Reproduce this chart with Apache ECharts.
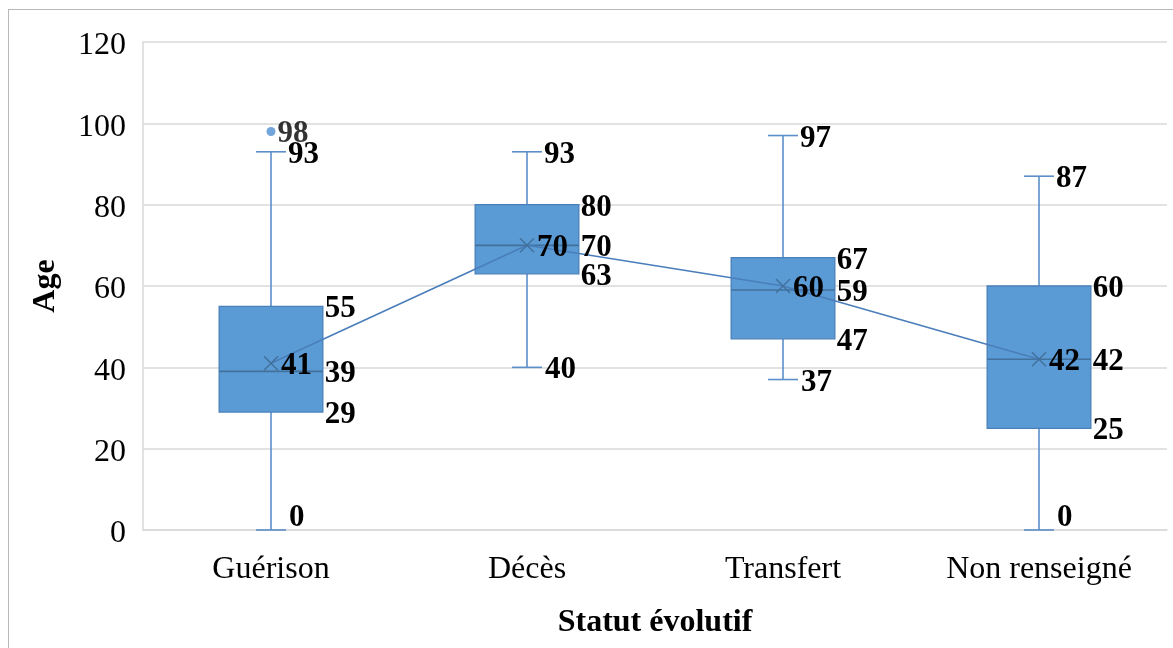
<!DOCTYPE html>
<html>
<head>
<meta charset="utf-8">
<title>Age selon le statut évolutif</title>
<script src="https://cdn.jsdelivr.net/npm/echarts@6/dist/echarts.min.js"></script>
<style>
  html, body { margin: 0; padding: 0; background: #fff; overflow: hidden; }
  #frame {
    position: absolute; left: 8px; top: 9px; width: 1200px; height: 700px;
    border: 1px solid #b8b8b8; box-sizing: border-box;
  }
  #chart { position: absolute; left: 0; top: 0; width: 1173px; height: 648px; }
</style>
</head>
<body>
<div id="frame"></div>
<div id="chart"></div>
<script>
// Age distribution by outcome status
const categories = ['Guérison', 'Décès', 'Transfert', 'Non renseigné'];
const minimum = [0, 40, 37, 0];
const q1 = [29, 63, 47, 25];
const median = [39, 70, 59, 42];
const q3 = [55, 80, 67, 60];
const maximum = [93, 93, 97, 87];
const mean = [41, 70, 60, 42];
const outliers = [[0, 98]];
const yTicks = { min: 0, max: 120, interval: 20 };

const FONT = '"Liberation Serif", "Times New Roman", serif';
const LABEL_FONT = 'bold 31px ' + FONT;
const LABEL_DY = 3;
const BOX_FILL = '#5B9BD5';
const BOX_EDGE = '#4A80BA';
const WHISKER = '#5B8FC9';
const MEAN_LINE = '#4A7EBB';
const MARK = '#41719C';

const boxData = categories.map((c, i) => [i, minimum[i], q1[i], median[i], q3[i], maximum[i], mean[i]]);

function geom(params, api) {
  const idx = api.value(0);
  const xc = api.coord([idx, 0])[0];
  const band = api.size([1, 0])[0];
  const y = v => api.coord([idx, v])[1];
  return { idx, xc, band, y, boxW: band * 0.405, capW: 30, bottom: y(0) };
}

// Whiskers, caps, box and median line
function renderBox(params, api) {
  const g = geom(params, api);
  const vMin = api.value(1), vQ1 = api.value(2), vMed = api.value(3), vQ3 = api.value(4), vMax = api.value(5);
  const half = g.boxW / 2, capHalf = g.capW / 2;
  const lineStyle = { stroke: WHISKER, lineWidth: 1.6 };
  return {
    type: 'group',
    children: [
      { type: 'line', shape: { x1: g.xc, y1: g.y(vQ3), x2: g.xc, y2: g.y(vMax) }, style: lineStyle },
      { type: 'line', shape: { x1: g.xc, y1: g.y(vQ1), x2: g.xc, y2: g.y(vMin) }, style: lineStyle },
      { type: 'line', shape: { x1: g.xc - capHalf, y1: g.y(vMax), x2: g.xc + capHalf, y2: g.y(vMax) }, style: lineStyle },
      { type: 'line', shape: { x1: g.xc - capHalf, y1: g.y(vMin), x2: g.xc + capHalf, y2: g.y(vMin) }, style: lineStyle },
      { type: 'rect', shape: { x: g.xc - half, y: g.y(vQ3), width: g.boxW, height: g.y(vQ1) - g.y(vQ3) },
        style: { fill: BOX_FILL, stroke: BOX_EDGE, lineWidth: 1.3 } },
      { type: 'line', shape: { x1: g.xc - half, y1: g.y(vMed), x2: g.xc + half, y2: g.y(vMed) },
        style: { stroke: MARK, lineWidth: 1.6 } }
    ]
  };
}

// Mean marker and value labels
function renderLabels(params, api) {
  const g = geom(params, api);
  const vals = [1, 2, 3, 4, 5, 6].map(k => api.value(k));
  const [vMin, vQ1, vMed, vQ3, vMax, vMean] = vals;
  const half = g.boxW / 2, capHalf = g.capW / 2;
  const clampY = yy => Math.min(yy, g.bottom - 15);
  const text = (x, yy, v) => ({
    type: 'text', x: x, y: clampY(yy) + LABEL_DY,
    style: { text: String(v), font: LABEL_FONT, fill: '#000', align: 'left', verticalAlign: 'middle' }
  });
  const ym = g.y(vMean), s = 7;
  return {
    type: 'group',
    children: [
      { type: 'line', shape: { x1: g.xc - s, y1: ym - s, x2: g.xc + s, y2: ym + s }, style: { stroke: MARK, lineWidth: 1.5 } },
      { type: 'line', shape: { x1: g.xc - s, y1: ym + s, x2: g.xc + s, y2: ym - s }, style: { stroke: MARK, lineWidth: 1.5 } },
      text(g.xc + capHalf + 2, g.y(vMax), vMax),
      text(g.xc + capHalf + 3, g.y(vMin), vMin),
      text(g.xc + half + 2, g.y(vQ3), vQ3),
      text(g.xc + half + 2, g.y(vMed), vMed),
      text(g.xc + half + 2, g.y(vQ1), vQ1),
      text(g.xc + 10, ym, vMean)
    ]
  };
}

const chart = echarts.init(document.getElementById('chart'), null, { renderer: 'canvas' });
chart.setOption({
  backgroundColor: 'transparent',
  animation: false,
  grid: { left: 143, right: 6, top: 42, bottom: 118, containLabel: false },
  xAxis: {
    type: 'category',
    data: categories,
    boundaryGap: true,
    axisLine: { show: true, lineStyle: { color: '#d9d9d9', width: 1.5 } },
    axisTick: { show: false },
    axisLabel: { fontFamily: FONT, fontSize: 32, color: '#000', margin: 24 },
    splitLine: { show: false }
  },
  yAxis: {
    type: 'value',
    min: yTicks.min, max: yTicks.max, interval: yTicks.interval,
    axisLine: { show: true, lineStyle: { color: '#d9d9d9', width: 1.5 } },
    axisTick: { show: false },
    axisLabel: {
      color: '#000', margin: 17,
      formatter: '{t|{value}}',
      rich: { t: { fontFamily: FONT, fontSize: 32, color: '#000', padding: [8, 0, 0, 0] } }
    },
    splitLine: { show: true, lineStyle: { color: '#d9d9d9', width: 1.5 } }
  },
  graphic: [
    { type: 'text', x: 655, y: 623,
      style: { text: 'Statut évolutif', font: 'bold 32px ' + FONT, fill: '#000', align: 'center', verticalAlign: 'middle' } },
    { type: 'text', x: 46, y: 286, rotation: Math.PI / 2,
      style: { text: 'Age', font: 'bold 32px ' + FONT, fill: '#000', align: 'center', verticalAlign: 'middle' } }
  ],
  series: [
    { type: 'custom', name: 'box', data: boxData, renderItem: renderBox, z: 2,
      encode: { x: 0, y: [1, 2, 3, 4, 5, 6] }, clip: false },
    { type: 'line', name: 'moyenne', data: mean, symbol: 'none', z: 3,
      lineStyle: { color: MEAN_LINE, width: 1.6 } },
    { type: 'custom', name: 'labels', data: boxData, renderItem: renderLabels, z: 4,
      encode: { x: 0, y: [1, 2, 3, 4, 5, 6] }, clip: false },
    { type: 'scatter', name: 'outliers', data: outliers, symbol: 'circle', symbolSize: 9, z: 4,
      itemStyle: { color: '#4F8FCF' },
      label: { show: true, position: 'right', distance: 2, offset: [0, LABEL_DY], formatter: p => String(p.value[1]),
        fontFamily: FONT, fontSize: 31, fontWeight: 'bold', color: '#000' } }
  ]
});
</script>
</body>
</html>
